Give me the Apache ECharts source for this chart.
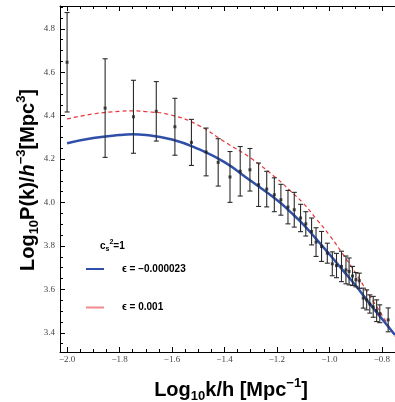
<!DOCTYPE html>
<html>
<head>
<meta charset="utf-8">
<script src="https://cdn.jsdelivr.net/npm/echarts@6/dist/echarts.min.js"></script>
<style>
  html, body { margin: 0; padding: 0; background: #fff; }
  #chart { width: 395px; height: 402px; }
</style>
</head>
<body>
<div id="chart"></div>
<script>
// measured points: log10 k/h, log10 P(k), symmetric error
const kData = [-2.000, -1.855, -1.747, -1.660, -1.589, -1.526, -1.470, -1.424, -1.379, -1.340,
  -1.303, -1.270, -1.239, -1.210, -1.185, -1.158, -1.134, -1.110, -1.090, -1.068,
  -1.051, -1.030, -1.008, -0.989, -0.973, -0.954, -0.937, -0.925, -0.912, -0.899,
  -0.886, -0.871, -0.858, -0.846, -0.833, -0.820, -0.808, -0.776]
const pData = [4.646, 4.435, 4.395, 4.420, 4.349, 4.277, 4.233, 4.185, 4.118, 4.144,
  4.151, 4.082, 4.062, 4.036, 4.013, 3.979, 3.967, 3.929, 3.902, 3.867,
  3.818, 3.798, 3.767, 3.718, 3.710, 3.706, 3.690, 3.683, 3.662, 3.645,
  3.640, 3.560, 3.552, 3.533, 3.520, 3.502, 3.488, 3.460]
const errData = [0.229, 0.227, 0.168, 0.137, 0.131, 0.106, 0.110, 0.109, 0.117, 0.114,
  0.098, 0.100, 0.082, 0.078, 0.071, 0.077, 0.080, 0.063, 0.056, 0.062,
  0.066, 0.069, 0.046, 0.055, 0.056, 0.070, 0.064, 0.062, 0.044, 0.033,
  0.035, 0.046, 0.046, 0.042, 0.048, 0.050, 0.041, 0.055]

// model curves
const curveK = [-2.0, -1.9, -1.8, -1.75, -1.7, -1.6, -1.5, -1.4, -1.3, -1.2,
  -1.15, -1.1, -1.05, -1.0, -0.95, -0.9, -0.85, -0.8, -0.75]
const blueCurve = [4.273, 4.297, 4.311, 4.314, 4.311, 4.290, 4.247, 4.186, 4.100, 4.012,
  3.958, 3.900, 3.832, 3.762, 3.690, 3.618, 3.540, 3.465, 3.390]
const redCurve = [4.385, 4.408, 4.420, 4.422, 4.419, 4.402, 4.356, 4.280, 4.205, 4.110,
  4.055, 3.997, 3.925, 3.850, 3.765, 3.675, 3.578, 3.483, 3.383]

const blueName = 'ϵ = −0.000023'
const redName = 'ϵ = 0.001'

const xTicks = [-2.0, -1.8, -1.6, -1.4, -1.2, -1.0, -0.8]
const yTicks = [3.4, 3.6, 3.8, 4.0, 4.2, 4.4, 4.6, 4.8]

// minor ticks every 0.05
const xMinor = []
for (let i = 0; i <= 25; i++) {
  const v = Math.round((-2.0 + i * 0.05) * 100) / 100
  if (xTicks.indexOf(v) < 0) xMinor.push(v)
}
const yMinor = []
for (let i = 0; i <= 31; i++) {
  const v = Math.round((3.35 + i * 0.05) * 100) / 100
  if (yTicks.indexOf(v) < 0) yMinor.push(v)
}

const fmt = v => (v < 0 ? '−' : '') + Math.abs(v).toFixed(1)

const xMin = -2.027
const xMax = -0.75
const yMin = 3.312
const yMax = 4.905

const chart = echarts.init(document.getElementById('chart'))

const axisLineStyle = { color: '#000', width: 1 }
const tickLabel = { fontFamily: 'Liberation Serif', fontSize: 9, color: '#444' }

function xAx (pos, values, len, withLine, withLabel) {
  return {
    type: 'value',
    position: pos,
    min: xMin,
    max: xMax,
    axisLine: { show: withLine, lineStyle: axisLineStyle },
    axisTick: { show: true, inside: true, length: len, customValues: values, lineStyle: { color: '#000' } },
    axisLabel: withLabel
      ? Object.assign({ customValues: values, formatter: fmt, margin: 3 }, tickLabel)
      : { show: false },
    splitLine: { show: false }
  }
}
function yAx (pos, values, len, withLine, withLabel) {
  return {
    type: 'value',
    position: pos,
    min: yMin,
    max: yMax,
    axisLine: { show: withLine, lineStyle: axisLineStyle },
    axisTick: { show: true, inside: true, length: len, customValues: values, lineStyle: { color: '#000' } },
    axisLabel: withLabel
      ? Object.assign({ customValues: values, formatter: fmt, margin: 5 }, tickLabel)
      : { show: false },
    splitLine: { show: false }
  }
}

const bold = { fontFamily: 'Liberation Sans', fontWeight: 'bold', fill: '#000', color: '#000' }

const option = {
  animation: false,
  backgroundColor: '#fff',
  grid: { left: 60, right: 0, top: 6, bottom: 50 },
  xAxis: [
    xAx('bottom', xTicks, 5, true, true),
    xAx('bottom', xMinor, 3, false, false),
    xAx('top', xTicks, 5, true, false),
    xAx('top', xMinor, 3, false, false)
  ],
  yAxis: [
    yAx('left', yTicks, 5, true, true),
    yAx('left', yMinor, 3, false, false)
  ],
  legend: {
    orient: 'vertical',
    left: 86,
    top: 262,
    padding: 0,
    itemWidth: 18,
    itemHeight: 2,
    itemGap: 24.5,
    data: [
      { name: blueName, icon: 'rect', itemStyle: { color: '#2f4fa8' } },
      { name: redName, icon: 'rect', itemStyle: { color: '#f08a8c' } }
    ],
    textStyle: { fontFamily: 'Liberation Sans', fontWeight: 'bold', fontSize: 10, lineHeight: 14, color: '#000', padding: [0, 0, 0, 13] }
  },
  graphic: [
    {
      type: 'text',
      x: 100,
      y: 239,
      style: {
        text: '{a|c}{s|s}{p|2}{a|=1}',
        rich: {
          a: Object.assign({ fontSize: 10, lineHeight: 14, verticalAlign: 'middle' }, bold),
          s: Object.assign({ fontSize: 7, lineHeight: 7, verticalAlign: 'bottom' }, bold),
          p: Object.assign({ fontSize: 7, lineHeight: 7, verticalAlign: 'top' }, bold)
        }
      }
    },
    {
      type: 'text',
      x: 28,
      y: 180,
      rotation: Math.PI / 2,
      style: {
        text: '{b|Log}{s|10}{b|P(k)/}{i|h}{p|−3}{b|[Mpc}{p|3}{b|]}',
        align: 'center',
        verticalAlign: 'middle',
        rich: {
          b: Object.assign({ fontSize: 20, lineHeight: 26 }, bold),
          i: Object.assign({ fontSize: 20, lineHeight: 26, fontStyle: 'italic' }, bold),
          s: Object.assign({ fontSize: 13, lineHeight: 13, verticalAlign: 'bottom' }, bold),
          p: Object.assign({ fontSize: 13, lineHeight: 13, verticalAlign: 'top' }, bold)
        }
      }
    },
    {
      type: 'text',
      x: 231,
      y: 390,
      style: {
        text: '{b|Log}{s|10}{b|k/h [Mpc}{p|−1}{b|]}',
        align: 'center',
        verticalAlign: 'middle',
        rich: {
          b: Object.assign({ fontSize: 20, lineHeight: 26 }, bold),
          s: Object.assign({ fontSize: 13, lineHeight: 13, verticalAlign: 'bottom' }, bold),
          p: Object.assign({ fontSize: 13, lineHeight: 13, verticalAlign: 'top' }, bold)
        }
      }
    }
  ],
  series: [
    {
      name: redName,
      type: 'line',
      data: curveK.map((k, i) => [k, redCurve[i]]),
      smooth: true,
      symbol: 'none',
      lineStyle: { color: '#e8363a', width: 1.2, type: [4, 3] },
      itemStyle: { color: '#e8363a' },
      z: 2
    },
    {
      name: blueName,
      type: 'line',
      data: curveK.map((k, i) => [k, blueCurve[i]]),
      smooth: true,
      symbol: 'none',
      lineStyle: { color: '#2f4fa8', width: 2.5 },
      itemStyle: { color: '#2f4fa8' },
      z: 3
    },
    {
      type: 'custom',
      data: kData.map((k, i) => [k, pData[i] - errData[i], pData[i] + errData[i]]),
      encode: { x: 0, y: [1, 2] },
      renderItem: function (params, api) {
        const x = api.value(0)
        const lo = api.coord([x, api.value(1)])
        const hi = api.coord([x, api.value(2)])
        const cap = 2.5
        const style = { stroke: '#2a2a2a', lineWidth: 1.1 }
        return {
          type: 'group',
          children: [
            { type: 'line', shape: { x1: hi[0], y1: hi[1], x2: lo[0], y2: lo[1] }, style: style },
            { type: 'line', shape: { x1: hi[0] - cap, y1: hi[1], x2: hi[0] + cap, y2: hi[1] }, style: style },
            { type: 'line', shape: { x1: lo[0] - cap, y1: lo[1], x2: lo[0] + cap, y2: lo[1] }, style: style }
          ]
        }
      },
      z: 4
    },
    {
      type: 'scatter',
      data: kData.map((k, i) => [k, pData[i]]),
      symbol: 'rect',
      symbolSize: 3,
      itemStyle: { color: '#222' },
      z: 5
    }
  ]
}

chart.setOption(option)
</script>
</body>
</html>
